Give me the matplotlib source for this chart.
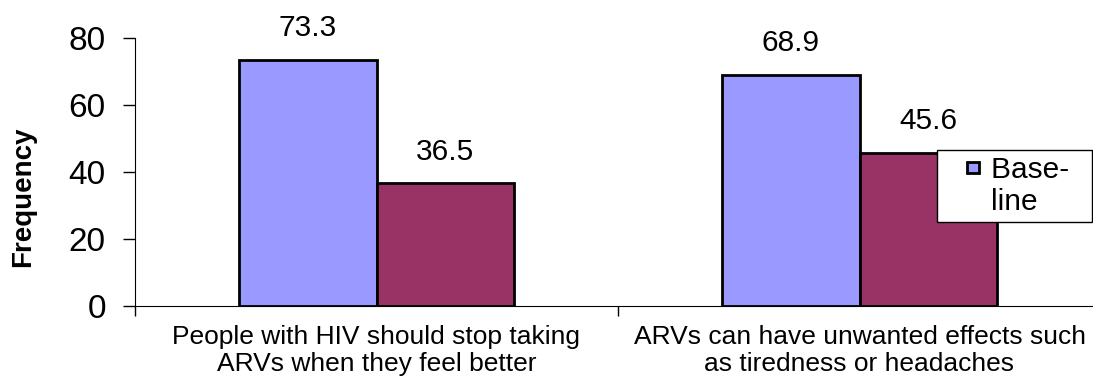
import numpy as np
import matplotlib.pyplot as plt
from matplotlib.patches import Rectangle
from matplotlib.legend_handler import HandlerPatch
from matplotlib.lines import Line2D

plt.rcParams['font.family'] = ['Liberation Sans', 'DejaVu Sans']

categories = ['People with HIV should stop taking\nARVs when they feel better',
              'ARVs can have unwanted effects such\nas tiredness or headaches']
baseline = [73.3, 68.9]
followup = [36.5, 45.6]

fig = plt.figure(figsize=(10.93, 3.83), dpi=100)
# axes extends past the right edge, like the cropped original
ax = fig.add_axes([135 / 1093, 1 - 306 / 383, 966 / 1093, 268.5 / 383])

x = np.arange(len(categories))
w = 0.285
b1 = ax.bar(x - w / 2, baseline, w, color='#9999FF', edgecolor='black',
            linewidth=2, zorder=3)
b2 = ax.bar(x + w / 2, followup, w, color='#993366', edgecolor='black',
            linewidth=2, zorder=3)

for bars in (b1, b2):
    for r in bars:
        ax.text(r.get_x() + r.get_width() / 2, r.get_height() + 9.5,
                f'{r.get_height():.1f}', ha='center', va='center', fontsize=21.5)

ax.set_xlim(-0.5, len(categories) - 0.5)
ax.set_ylim(0, 80)
ax.set_yticks([0, 20, 40, 60, 80])
ax.tick_params(axis='y', labelsize=24, length=9, width=1, pad=12)

# category boundary ticks, labels centered under groups
ax.set_xticks([-0.5, 0.5, 1.5])
ax.set_xticklabels([])
ax.tick_params(axis='x', length=7, width=1)
for i, c in enumerate(categories):
    ax.text(i, -5.6, c, ha='center', va='top', fontsize=19, linespacing=1.18)

for s in ('top', 'right'):
    ax.spines[s].set_visible(False)

fig.text(23 / 1093, 1 - 197 / 383, 'Frequency', rotation=90, ha='center', va='center',
         fontsize=20, fontweight='bold')


# small square handle sitting at the right of its slot
def square(legend, orig_handle, xdescent, ydescent, width, height, fontsize):
    s = 0.4 * fontsize
    return Rectangle((width - s - 0.3 * fontsize, height / 2 - s / 2), s, s)


h1 = Rectangle((0, 0), 1, 1, facecolor='#9999FF', edgecolor='black', linewidth=2)
h2 = Line2D([], [], linestyle='none')
leg = fig.legend([h1, h2], ['Base-  ', 'line'], loc='upper left',
                 bbox_to_anchor=(937 / 1093, 1 - 150 / 383),
                 fontsize=21.5, frameon=True, fancybox=False, framealpha=1,
                 edgecolor='black', handlelength=1.52, handletextpad=0.1,
                 borderpad=0.2, labelspacing=0.13, borderaxespad=0,
                 handler_map={Rectangle: HandlerPatch(patch_func=square)})
leg.get_frame().set_linewidth(1)

fig.savefig('out.png', dpi=100)
